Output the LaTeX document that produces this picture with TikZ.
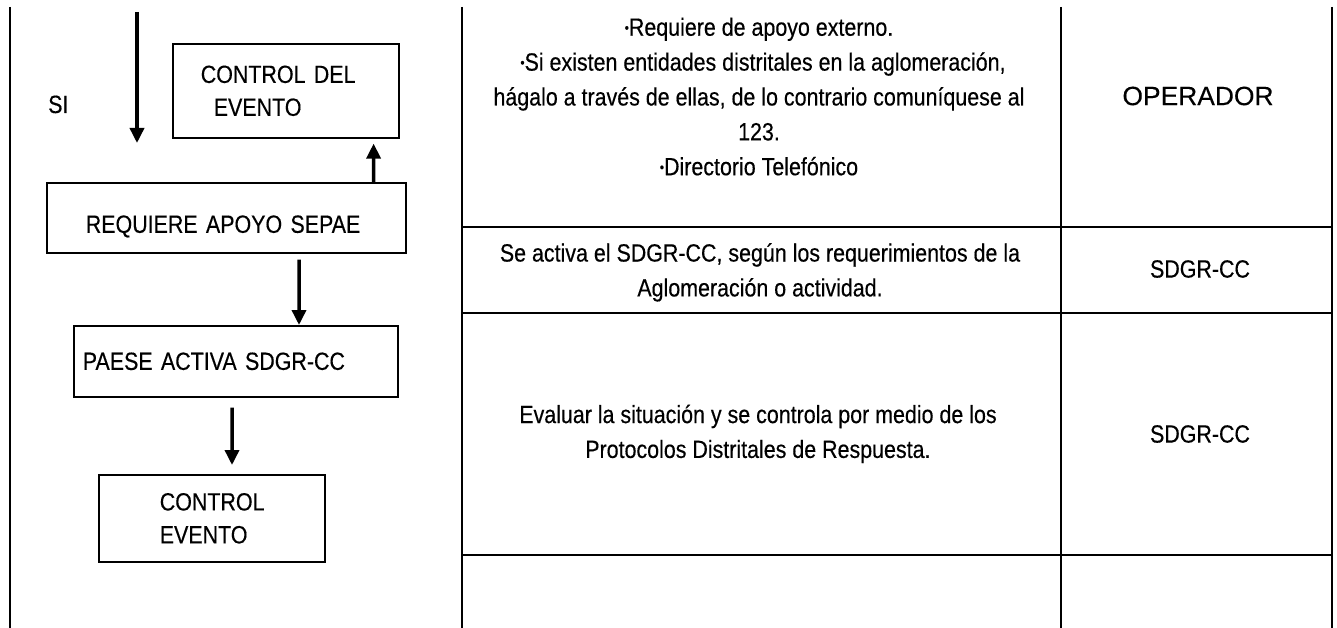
\documentclass[tikz,border=0pt]{standalone}
\usepackage{fontspec}
\setmainfont{Liberation Sans}[FakeStretch=0.86,FakeBold=0.35]
\newfontfamily\opfont{Liberation Sans}[FakeBold=0.2]
\usetikzlibrary{arrows.meta,calc}
\newcommand{\smbul}{{\fontsize{14}{14}\selectfont\raisebox{3.2bp}{\textbullet}}}
\begin{document}
\begin{tikzpicture}[x=1bp,y=-1bp,
  txt/.style={font=\fontsize{25}{26}\selectfont, inner sep=0},
  box/.style={draw, line width=1.6bp, font=\fontsize{25}{33}\selectfont, align=left, inner ysep=0, anchor=north west},
  arr/.style={line width=3.5bp, -{Triangle[width=14bp,length=15bp]}},
  grid/.style={line width=2bp},
  cell/.style={font=\fontsize{25}{35}\selectfont, align=center, inner sep=0, anchor=north}]
\useasboundingbox (0,0) rectangle (1337,628);
% frame lines
\draw[grid] (10,7) -- (10,628);
\draw[grid] (462,7) -- (462,628);
\draw[grid] (1061,7) -- (1061,628);
\draw[grid] (1332,7) -- (1332,628);
\draw[grid] (462,227) -- (1332,227);
\draw[grid] (462,313) -- (1332,313);
\draw[grid] (462,555) -- (1332,555);
% flowchart
\node[txt, anchor=base west] (si) at (48,113) {SI};
\coordinate (a1s) at (137,12);
\coordinate (a1e) at (137,143);
\draw[arr] (a1s) -- (a1e);
\node[box, inner xsep=28bp, text width=170bp, minimum height=94bp] (b1) at (172,43)
  {CONTROL DEL\\\hspace*{13bp}EVENTO};
\node[box, inner xsep=39bp, text width=281bp, minimum height=70bp, text height=32bp, text depth=2bp] (b2) at (46,182)
  {REQUIERE APOYO SEPAE};
\node[box, inner xsep=9bp, text width=306bp, minimum height=71bp] (b3) at (73,325)
  {PAESE ACTIVA SDGR-CC};
\node[box, inner xsep=61bp, text width=104bp, minimum height=87bp] (b4) at (98,474)
  {CONTROL\\EVENTO};
\draw[arr] ([xshift=-33bp]b2.north east) -- ([xshift=-26bp,yshift=-5bp]b1.south east);
\draw[arr] ([xshift=253bp,yshift=-6bp]b2.south west) -- ([xshift=226bp]b3.north west);
\draw[arr] ([xshift=159bp,yshift=-10bp]b3.south west) -- ([xshift=134bp,yshift=9bp]b4.north west);
% table texts
\node[cell] (c1) at (759,17.5) {\smbul Requiere de apoyo externo.\\
  \hspace*{8bp}\smbul Si existen entidades distritales en la aglomeración,\\
  hágalo a través de ellas, de lo contrario comuníquese al\\
  123.\\
  \smbul Directorio Telefónico};
\node[cell] (c2) at (760,243) {Se activa el SDGR-CC, según los requerimientos de la\\Aglomeración o actividad.};
\node[cell, align=left] (c3) at (758,404.5) {Evaluar la situación y se controla por medio de los\\\hspace*{66bp}Protocolos Distritales de Respuesta.};
\node[txt, font=\opfont\fontsize{26.5}{27}\selectfont] (r1) at (1198,96) {OPERADOR};
\node[txt] (r2) at (1200,269) {SDGR-CC};
\node[txt] (r3) at (1200,434) {SDGR-CC};
\end{tikzpicture}
\end{document}
